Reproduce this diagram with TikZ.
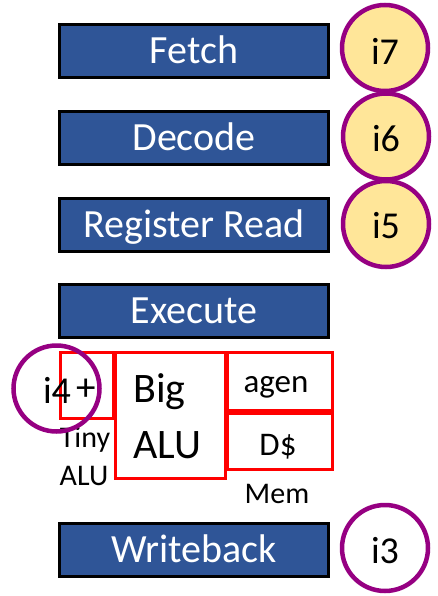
\documentclass[tikz,border=0pt]{standalone}
\usepackage{fontspec}
\setmainfont{Carlito}
\definecolor{stageblue}{RGB}{47,85,151}
\definecolor{ringpurple}{RGB}{150,0,130}
\definecolor{slotyellow}{RGB}{255,230,153}
\definecolor{unitred}{RGB}{255,0,0}
\tikzset{
  stagebox/.style={draw=black, line width=3pt, fill=stageblue, text=white,
    minimum width=269pt, minimum height=53pt, inner sep=0pt,
    font=\fontsize{40}{40}\selectfont, text height=25pt, text depth=0pt},
  instr/.style={circle, draw=ringpurple, line width=4.5pt, fill=slotyellow,
    minimum size=86pt, inner sep=0pt},
  openinstr/.style={instr, fill=none},
  unitbox/.style={draw=unitred, line width=3pt, inner sep=0pt},
  lbl/.style={inner sep=0pt, anchor=base},
  instrlbl/.style={lbl, font=\fontsize{38}{38}\selectfont},
}
\begin{document}
\begin{tikzpicture}[x=1pt,y=-1pt]
\useasboundingbox (0,0) rectangle (437,596);
\fill[white] (0,0) rectangle (437,596);

% pipeline stages
\node[stagebox] (fetch)  at (194,51.5)  {Fetch};
\node[stagebox] (decode) at (194,138) {Decode};
\node[stagebox] (rr)     at (194,224.5) {Register Read};
\node[stagebox] (exec)   at (194,310.5) {Execute};
\node[stagebox] (wb)     at (194,549.5) {Writeback};

% execute units
\node[unitbox, minimum width=53pt, minimum height=66pt] (tiny) at (86.5,385) {};
\node[unitbox, minimum width=110pt, minimum height=126pt] (big) at (170,415) {};
\node[unitbox, minimum width=105pt, minimum height=58pt] (agen) at (279.5,381) {};
\node[unitbox, minimum width=105pt, minimum height=56pt] (dc) at (279.5,441) {};

\node[lbl, font=\fontsize{39}{39}\selectfont] (plus) at (86,400) {+};
\node[lbl, font=\fontsize{30}{30}\selectfont] (tinyl) at (85,447) {Tiny};
\node[lbl, font=\fontsize{30}{30}\selectfont] (tinyalu) at (84,485) {ALU};
\node[lbl, anchor=base west, font=\fontsize{42}{42}\selectfont] (bigl) at (133,402) {Big};
\node[lbl, anchor=base west, font=\fontsize{42}{42}\selectfont] (bigalu) at (133,458) {ALU};
\node[lbl, font=\fontsize{33}{33}\selectfont] (agenl) at (276,392) {agen};
\node[lbl, font=\fontsize{33}{33}\selectfont] (dcl) at (278,455) {D\$};
\node[lbl, font=\fontsize{30}{30}\selectfont] (meml) at (277,503) {Mem};

% instructions in flight
\node[instr] (i7) at (385,48) {};
\node[instr] (i6) at (386,136.5) {};
\node[instr] (i5) at (386,224) {};
\node[openinstr] (i4) at (56.5,388.5) {};
\node[openinstr] (i3) at (385,548) {};

\node[instrlbl] (i7l) at (385,65) {i7};
\node[instrlbl] (i6l) at (386,152) {i6};
\node[instrlbl] (i5l) at (386,238) {i5};
\node[instrlbl] (i4l) at (57,403) {i4};
\node[instrlbl] (i3l) at (385,563) {i3};
\end{tikzpicture}
\end{document}
